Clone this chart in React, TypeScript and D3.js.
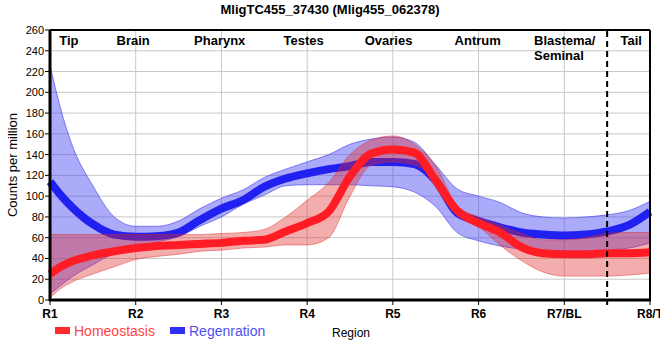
import React from "react";
import * as d3 from "d3";

// positions along the body, in region units (R1 = 1 ... R8/T = 8)
const positions = [
  1, 1.125, 1.25, 1.5, 1.75, 2, 2.25, 2.5, 2.75, 3, 3.25, 3.5, 3.75, 4, 4.25,
  4.5, 4.75, 5, 5.25, 5.5, 5.75, 6, 6.25, 6.5, 6.75, 7, 7.25, 7.5, 7.75, 8,
];

const regenMean = [
  114, 101, 90, 73, 63, 61, 61.5, 65, 77, 88, 96, 109, 117, 122, 126, 129, 133,
  133, 131, 115, 84, 76, 70, 65, 63, 62, 63, 66, 72, 85,
];
const regenUpper = [
  226, 184, 151, 110, 80, 71, 71, 76, 88, 98, 106, 118, 126, 133, 140, 150, 155,
  157, 152, 130, 107, 100, 94, 84, 80, 79, 80, 82, 86, 95,
];
const regenLower = [
  6, 14, 22, 34, 45, 51, 56, 61, 71, 80, 92, 101, 110, 111, 111, 111, 110, 109,
  104, 90, 65, 57, 52, 49, 47, 47, 47, 48, 50, 55,
];

const homeoMean = [
  25, 32, 37, 43, 47, 50, 52, 53, 54, 55, 57, 58, 66, 74, 85, 119, 141, 145,
  142, 115, 86, 74, 65, 51, 45, 44, 44, 45, 45, 46,
];
const homeoUpper = [
  63, 63, 63, 63, 63, 63, 63, 63, 63, 64, 65, 68, 80, 96, 113, 140, 154, 158,
  150, 129, 91, 80, 72, 64, 58, 58, 60, 64, 65, 65,
];
const homeoLower = [
  2, 11, 17, 25, 32, 39, 42, 44, 47, 48, 50, 51, 53, 53, 60, 100, 130, 133, 130,
  115, 86, 71, 53, 38, 27, 23, 23, 23, 24, 26,
];

const tickLabels = ["R1", "R2", "R3", "R4", "R5", "R6", "R7/BL", "R8/T"];
const yTicks = d3.range(0, 261, 20);

const regionNames = ["Tip", "Brain", "Pharynx", "Testes", "Ovaries", "Antrum", "Tail"];
const regionCenters = [1.22, 1.97, 2.98, 3.96, 4.95, 5.99, 7.78];
const tailBoundary = 7.5;

const W = 660;
const H = 360;
const FONT = "'Liberation Sans', Arial, sans-serif";

export default function App() {
  const x = d3.scaleLinear().domain([1, 8]).range([50, 650]);
  const y = d3.scaleLinear().domain([0, 260]).range([300, 30]);

  const line = d3
    .line<number>()
    .x((_, i) => x(positions[i]))
    .y((d) => y(d))
    .curve(d3.curveMonotoneX);

  const band = (lo: number[], hi: number[]) =>
    d3
      .area<number>()
      .x((_, i) => x(positions[i]))
      .y0((_, i) => y(lo[i]))
      .y1((_, i) => y(hi[i]))
      .curve(d3.curveMonotoneX)(positions) as string;

  return (
    <svg
      width={W}
      height={H}
      style={{ position: "absolute", left: 0, top: 0, background: "#fff" }}
      fontFamily={FONT}
    >
      {/* title */}
      <text x={330} y={14} textAnchor="middle" fontSize={13} fontWeight="bold">
        MligTC455_37430 (Mlig455_062378)
      </text>

      {/* grid */}
      {yTicks.map((t) => (
        <line key={"gy" + t} x1={50} x2={650} y1={y(t)} y2={y(t)} stroke="#c8c8c8" strokeWidth={1} />
      ))}
      {tickLabels.map((_, i) => (
        <line key={"gx" + i} x1={x(i + 1)} x2={x(i + 1)} y1={30} y2={300} stroke="#c8c8c8" strokeWidth={1} />
      ))}

      {/* regeneration */}
      <path
        d={band(regenLower, regenUpper)}
        fill="rgba(60,60,240,0.43)"
        stroke="rgba(60,60,240,0.6)"
        strokeWidth={1}
      />
      <path d={line(regenMean) as string} fill="none" stroke="#2020f0" strokeWidth={8} />

      {/* homeostasis */}
      <path
        d={band(homeoLower, homeoUpper)}
        fill="rgba(225,40,40,0.38)"
        stroke="rgba(225,40,40,0.45)"
        strokeWidth={1}
      />
      <path d={line(homeoMean) as string} fill="none" stroke="#ff1c24" strokeWidth={8} />

      {/* frame */}
      <line x1={50} x2={650} y1={30} y2={30} stroke="#000" strokeWidth={2} />
      <line x1={650} x2={650} y1={30} y2={300} stroke="#000" strokeWidth={2} />
      <line x1={50} x2={50} y1={30} y2={301} stroke="#000" strokeWidth={3} />
      <line x1={49} x2={651} y1={300} y2={300} stroke="#000" strokeWidth={3} />

      {/* tail boundary */}
      <line
        x1={x(tailBoundary)}
        x2={x(tailBoundary)}
        y1={31}
        y2={305}
        stroke="#000"
        strokeWidth={2}
        strokeDasharray="6,4"
      />

      {/* y axis */}
      {yTicks.map((t) => (
        <g key={"yt" + t}>
          <line x1={45} x2={50} y1={y(t)} y2={y(t)} stroke="#000" strokeWidth={1} />
          <text x={44} y={y(t) + 4} textAnchor="end" fontSize={11}>
            {t}
          </text>
        </g>
      ))}
      <text
        transform={`translate(17,${y(130)}) rotate(-90)`}
        textAnchor="middle"
        fontSize={13}
      >
        Counts per million
      </text>

      {/* x axis */}
      {tickLabels.map((l, i) => (
        <g key={"xt" + l}>
          <line x1={x(i + 1)} x2={x(i + 1)} y1={300} y2={305} stroke="#000" strokeWidth={1} />
          <text x={x(i + 1)} y={318} textAnchor="middle" fontSize={12} fontWeight="bold">
            {l}
          </text>
        </g>
      ))}
      <text x={332} y={337} fontSize={12}>
        Region
      </text>

      {/* region names */}
      {regionNames.map((n, i) => (
        <text key={n} x={x(regionCenters[i])} y={45} textAnchor="middle" fontSize={13} fontWeight="bold">
          {n}
        </text>
      ))}
      <text x={534} y={45} fontSize={13} fontWeight="bold">
        Blastema/
      </text>
      <text x={534} y={60} fontSize={13} fontWeight="bold">
        Seminal
      </text>

      {/* legend */}
      <rect x={55} y={327} width={15} height={7} fill="#ff2a2a" />
      <text x={74} y={335.5} fontSize={14} fill="#ff4545">
        Homeostasis
      </text>
      <rect x={170} y={327} width={15} height={7} fill="#3030f5" />
      <text x={189} y={335.5} fontSize={14} fill="#5050f0">
        Regenration
      </text>
    </svg>
  );
}
